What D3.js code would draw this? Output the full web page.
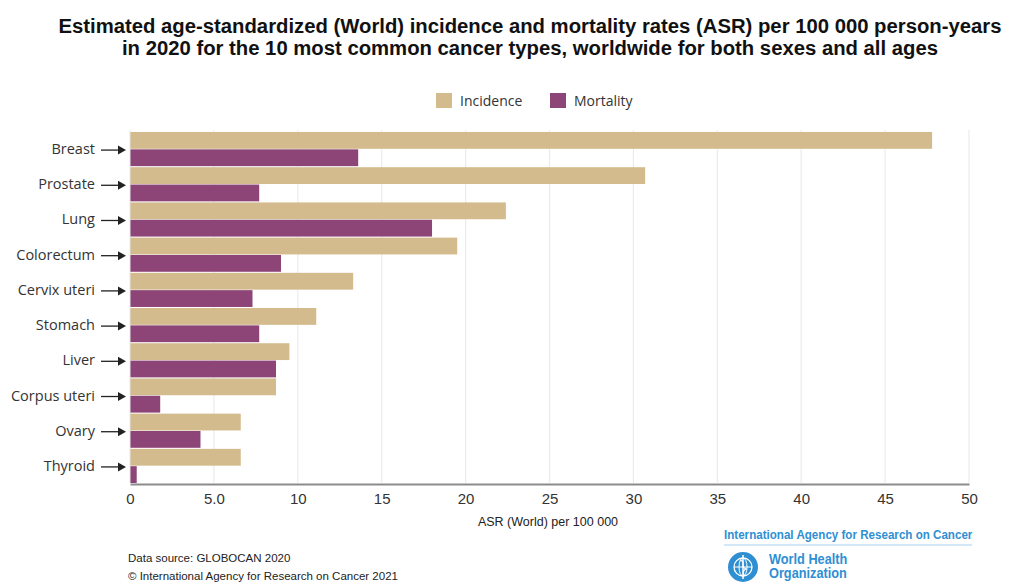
<!DOCTYPE html>
<html>
<head>
<meta charset="utf-8">
<script src="https://cdn.jsdelivr.net/npm/d3@7"></script>
<style>
  html, body { margin: 0; padding: 0; background: #fff; }
  svg { display: block; }
</style>
</head>
<body>
<svg id="chart" width="1021" height="583"></svg>
<script>
// GLOBOCAN 2020 — ASR (World) per 100 000, both sexes, all ages
const cancers = ["Breast", "Prostate", "Lung", "Colorectum", "Cervix uteri", "Stomach", "Liver", "Corpus uteri", "Ovary", "Thyroid"];
const incidence = [47.8, 30.7, 22.4, 19.5, 13.3, 11.1, 9.5, 8.7, 6.6, 6.6];
const mortality = [13.6, 7.7, 18.0, 9.0, 7.3, 7.7, 8.7, 1.8, 4.2, 0.4];
const seriesNames = ["Incidence", "Mortality"];
const tickValues = [0, 5, 10, 15, 20, 25, 30, 35, 40, 45, 50];
const tickLabels = ["0", "5.0", "10", "15", "20", "25", "30", "35", "40", "45", "50"];

const colors = { Incidence: "#d3bb8d", Mortality: "#8d4477" };
const svg = d3.select("#chart");

const plot = { left: 130, right: 969, top: 132, bottom: 483 };

const x = d3.scaleLinear().domain([0, 50]).range([plot.left, plot.right]);
const y = d3.scaleBand().domain(cancers).range([plot.top, plot.bottom]).paddingInner(0.03).paddingOuter(0);
const ySub = d3.scaleBand().domain(seriesNames).range([0, y.bandwidth()]).paddingInner(0.03);

// Title
const titleLines = [
  "Estimated age-standardized (World) incidence and mortality rates (ASR) per 100 000 person-years",
  "in 2020 for the 10 most common cancer types, worldwide for both sexes and all ages"
];
titleLines.forEach((t, i) => {
  svg.append("text")
    .attr("x", 530).attr("y", 33 + i * 22)
    .attr("text-anchor", "middle")
    .attr("font-family", "Liberation Sans, Arial, sans-serif")
    .attr("font-weight", "bold").attr("font-size", 20.3).attr("fill", "#111")
    .text(t);
});

// Legend
const legendX = [436, 550];
seriesNames.forEach((s, i) => {
  svg.append("rect")
    .attr("x", legendX[i]).attr("y", 93).attr("width", 16).attr("height", 15)
    .attr("fill", colors[s]);
  svg.append("text")
    .attr("x", legendX[i] + 24).attr("y", 106)
    .attr("font-family", "Open Sans, sans-serif").attr("font-size", 14).attr("fill", "#333")
    .text(s);
});

// Gridlines
svg.append("g")
  .selectAll("line")
  .data(tickValues.filter(d => d > 0))
  .join("line")
  .attr("x1", d => x(d)).attr("x2", d => x(d))
  .attr("y1", plot.top - 2).attr("y2", plot.bottom)
  .attr("stroke", "#ebebeb").attr("stroke-width", 1.2);

// Bars
const groups = svg.append("g")
  .selectAll("g")
  .data(cancers.map((c, i) => ({ c, values: [{ s: "Incidence", v: incidence[i] }, { s: "Mortality", v: mortality[i] }] })))
  .join("g")
  .attr("transform", d => `translate(0,${y(d.c)})`);

groups.selectAll("rect")
  .data(d => d.values)
  .join("rect")
  .attr("x", x(0))
  .attr("y", d => ySub(d.s))
  .attr("width", d => x(d.v) - x(0))
  .attr("height", ySub.bandwidth())
  .attr("fill", d => colors[d.s]);

// Left edge line
svg.append("line")
  .attr("x1", x(0)).attr("x2", x(0))
  .attr("y1", plot.top - 2).attr("y2", plot.bottom)
  .attr("stroke", "#e6e6e6").attr("stroke-width", 1);

// Category labels with arrows
const labelG = svg.append("g");
cancers.forEach(c => {
  const cy = y(c) + y.bandwidth() / 2;
  labelG.append("text")
    .attr("x", 95).attr("y", cy + 5)
    .attr("text-anchor", "end")
    .attr("font-family", "Open Sans, sans-serif").attr("font-size", 14.5).attr("fill", "#333")
    .text(c);
  labelG.append("line")
    .attr("x1", 101).attr("x2", 119)
    .attr("y1", cy + 1).attr("y2", cy + 1)
    .attr("stroke", "#222").attr("stroke-width", 1.3);
  labelG.append("path")
    .attr("d", `M118,${cy - 3.5} L126,${cy + 1} L118,${cy + 5.5} Z`)
    .attr("fill", "#222");
});

// X axis
const xAxis = d3.axisBottom(x)
  .tickValues(tickValues)
  .tickFormat((d, i) => tickLabels[i])
  .tickSize(0)
  .tickPadding(9);
const axisG = svg.append("g")
  .attr("transform", `translate(0,${plot.bottom + 1})`)
  .call(xAxis);
axisG.select(".domain").attr("stroke", "#8c8c8c").attr("stroke-width", 2);
axisG.selectAll("text")
  .attr("font-family", "Liberation Sans, Arial, sans-serif")
  .attr("font-size", 15).attr("fill", "#333");

svg.append("text")
  .attr("x", 548).attr("y", 526)
  .attr("text-anchor", "middle")
  .attr("font-family", "Liberation Sans, Arial, sans-serif")
  .attr("font-size", 12.5).attr("fill", "#222")
  .text("ASR (World) per 100 000");

// Source notes
svg.append("text")
  .attr("x", 128).attr("y", 562)
  .attr("font-family", "Liberation Sans, Arial, sans-serif")
  .attr("font-size", 11.5).attr("fill", "#222")
  .text("Data source: GLOBOCAN 2020");
svg.append("text")
  .attr("x", 128).attr("y", 580)
  .attr("font-family", "Liberation Sans, Arial, sans-serif")
  .attr("font-size", 11.5).attr("fill", "#222")
  .text("© International Agency for Research on Cancer 2021");

// Agency marks (condensed by horizontal scaling)
const blue = "#2f8fd3";
svg.append("text")
  .attr("transform", "translate(724,539) scale(0.86,1)")
  .attr("font-family", "Liberation Sans, Arial, sans-serif")
  .attr("font-weight", "bold").attr("font-size", 13.5).attr("fill", blue)
  .text("International Agency for Research on Cancer");
svg.append("line")
  .attr("x1", 724).attr("x2", 972).attr("y1", 545).attr("y2", 545)
  .attr("stroke", "#a9cfee").attr("stroke-width", 1.2);

// Emblem: globe in a wreath
const em = svg.append("g").attr("transform", "translate(743,567)");
em.append("circle").attr("r", 15).attr("fill", blue);
em.append("circle").attr("r", 9).attr("fill", "none").attr("stroke", "#fff").attr("stroke-width", 1.3);
em.append("ellipse").attr("rx", 4).attr("ry", 9).attr("fill", "none").attr("stroke", "#fff").attr("stroke-width", 1);
em.append("line").attr("x1", -9).attr("x2", 9).attr("stroke", "#fff").attr("stroke-width", 1);
em.append("line").attr("y1", -12).attr("y2", 12).attr("stroke", "#fff").attr("stroke-width", 1.5);
em.append("path").attr("d", "M-3,-7 C4,-5 -4,-1 3,2 C-3,5 3,8 0,10").attr("fill", "none").attr("stroke", "#fff").attr("stroke-width", 1.3);

svg.append("text")
  .attr("transform", "translate(769,564) scale(0.88,1)")
  .attr("font-family", "Liberation Sans, Arial, sans-serif")
  .attr("font-weight", "bold").attr("font-size", 14.5).attr("fill", blue)
  .text("World Health");
svg.append("text")
  .attr("transform", "translate(769,578) scale(0.88,1)")
  .attr("font-family", "Liberation Sans, Arial, sans-serif")
  .attr("font-weight", "bold").attr("font-size", 14.5).attr("fill", blue)
  .text("Organization");
</script>
</body>
</html>
